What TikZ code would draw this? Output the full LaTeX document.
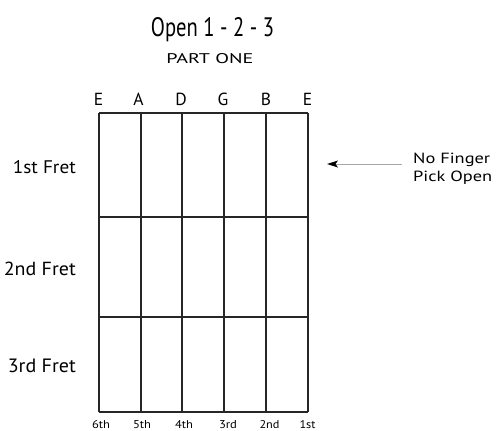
\documentclass[tikz,border=0pt]{standalone}
\usepackage{fontspec}
\usepackage{graphicx}
\setmainfont{PT Sans}
\usetikzlibrary{calc}
\newcommand{\fitbox}[3]{\resizebox{#1}{#2}{#3}}
\begin{document}
\begin{tikzpicture}[x=1pt,y=-1pt,
  grid/.style={line width=1.1pt,black!85},
  lab/.style={inner sep=0pt,anchor=base},
  strlab/.style={lab,font=\fontsize{17.5}{20}\selectfont},
  fretlab/.style={inner sep=0pt,anchor=base east},
  notelab/.style={inner sep=0pt,anchor=base west}]
\useasboundingbox (0,0) rectangle (498,431);
% title
\node[lab] (title) at (212.5,36) {\fitbox{123pt}{19pt}{Open 1 - 2 - 3}};
\node[lab] (part) at (210,63) {\fitbox{87pt}{10pt}{PART ONE}};
% grid
\foreach \x [count=\i] in {99,141,182,224,266,308} {
  \coordinate (t\i) at (\x,113);
  \coordinate (b\i) at (\x,412);
  \draw[grid] (t\i) -- (b\i);
}
\foreach \y [count=\j] in {113,217,317,412} {
  \coordinate (l\j) at (99,\y);
  \coordinate (r\j) at (308,\y);
  \draw[grid] (l\j) -- (r\j);
}
% string names
\foreach \x/\s [count=\i] in {98.5/E,138.5/A,181/D,223/G,266/B,307.5/E}
  \node[strlab] (s\i) at (\x,105) {\s};
% string numbers
\node[lab] (n1) at (101,428) {\fitbox{18pt}{8pt}{6th}};
\node[lab] (n2) at (142,428) {\fitbox{18pt}{8pt}{5th}};
\node[lab] (n3) at (184,428) {\fitbox{18pt}{8pt}{4th}};
\node[lab] (n4) at (228,428) {\fitbox{18pt}{8pt}{3rd}};
\node[lab] (n5) at (269.5,428) {\fitbox{20pt}{8pt}{2nd}};
\node[lab] (n6) at (307.5,428) {\fitbox{16pt}{8pt}{1st}};
% fret labels
\node[fretlab] (f1) at (76,173) {\fitbox{63pt}{13pt}{1st Fret}};
\node[fretlab] (f2) at (76,275) {\fitbox{72pt}{13.5pt}{2nd Fret}};
\node[fretlab] (f3) at (76,372) {\fitbox{68pt}{13.5pt}{3rd Fret}};
% note
\node[notelab] (note1) at (413,163) {\fitbox{77pt}{10.5pt}{No Finger}};
\node[notelab] (note2) at (413,181) {\fitbox{79pt}{10.5pt}{Pick Open}};
\coordinate (as) at (402,164);
\coordinate (ae) at (327,164);
\draw[black!35,line width=0.6pt] (as) -- ($(ae)+(6,0)$);
\fill[black] (ae) -- ++(11,-3.5) -- ++(-2.5,3.5) -- ++(2.5,3.5) -- cycle;
\end{tikzpicture}
\end{document}
